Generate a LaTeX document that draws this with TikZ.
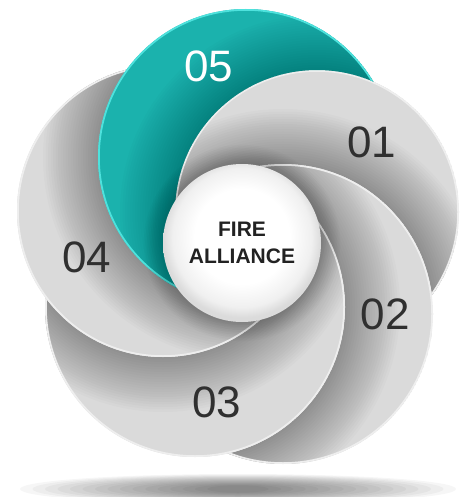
\documentclass[tikz,border=0pt]{standalone}
\usepackage{fontspec}
\setmainfont{Liberation Sans}
\definecolor{greybase}{HTML}{DADADA}
\definecolor{greyrim}{HTML}{EEEEEE}
\definecolor{tealbase}{HTML}{1BB2AD}
\definecolor{tealrim}{HTML}{4EE2DD}
\definecolor{numdark}{HTML}{303030}
\definecolor{hubtext}{HTML}{222222}
\pgfdeclareradialshading{hubshade}{\pgfpoint{0bp}{3bp}}{color(0bp)=(white); color(15bp)=(white); color(22bp)=(white!94!black); color(25bp)=(white!86!black); color(50bp)=(white!86!black)}
\tikzset{
  numlabel/.style={inner sep=0pt, font=\fontsize{44}{44}\selectfont, text=numdark},
  hubnode/.style={circle, inner sep=0pt, minimum size=158pt, shading=hubshade, align=center,
     font=\fontsize{21}{26.6}\selectfont\bfseries, text=hubtext}
}
\expandafter\def\csname radA\endcsname{142}
\expandafter\def\csname radB\endcsname{150}
\expandafter\def\csname radC\endcsname{150}
\expandafter\def\csname radD\endcsname{146}
\expandafter\def\csname radE\endcsname{148}
\newcommand\drawpetal[5]{%
\begin{scope}
 \clip (p#1) circle (\csname rad#1\endcsname pt);
 \begin{scope}[even odd rule]
 \clip (-20,-20) rectangle (480,520) (p#2) circle (\csname rad#2\endcsname pt);
 \fill[#3] (p#1) circle (\csname rad#1\endcsname pt);
 \foreach \k in {1,...,22}{
   \pgfmathsetmacro\rr{\csname rad#2\endcsname+\k*2.5}
   \fill[black, opacity=#5] (p#2) circle (\rr pt);
 }
 \draw[#4, line width=3.5pt] (p#1) circle (\csname rad#1\endcsname pt);
 \end{scope}
\end{scope}}
\begin{document}
\begin{tikzpicture}[x=1pt,y=-1pt]
\useasboundingbox (0,0) rectangle (459,497);
\fill[white] (0,0) rectangle (459,497);
% floor shadow
\foreach \k in {0,...,15}{
  \fill[black, opacity=0.035] (238,489) ellipse ({218-\k*12.5} and {15-\k*0.75});
}
% petal centres
\coordinate (pA) at (317,212);
\coordinate (pB) at (283,314);
\coordinate (pC) at (195,307);
\coordinate (pD) at (163,211);
\coordinate (pE) at (246,157);
\drawpetal{A}{B}{greybase}{greyrim}{0.014}
\drawpetal{B}{C}{greybase}{greyrim}{0.014}
\drawpetal{C}{D}{greybase}{greyrim}{0.014}
\drawpetal{D}{E}{greybase}{greyrim}{0.014}
\drawpetal{E}{A}{tealbase}{tealrim}{0.012}
% hub shadow
\foreach \k in {1,...,12}{
  \pgfmathsetmacro\rr{79+\k*1.6}
  \fill[black, opacity=0.016] (242,243) circle (\rr pt);
}
\node[hubnode] (hub) at (242,243) {FIRE\\ALLIANCE};
% labels
\node[numlabel] (n1) at (372,142) {01};
\node[numlabel] (n2) at (385,314) {02};
\node[numlabel] (n3) at (217,402) {03};
\node[numlabel] (n4) at (87,257) {04};
\node[numlabel, text=white] (n5) at (209,66) {05};
\end{tikzpicture}
\end{document}
